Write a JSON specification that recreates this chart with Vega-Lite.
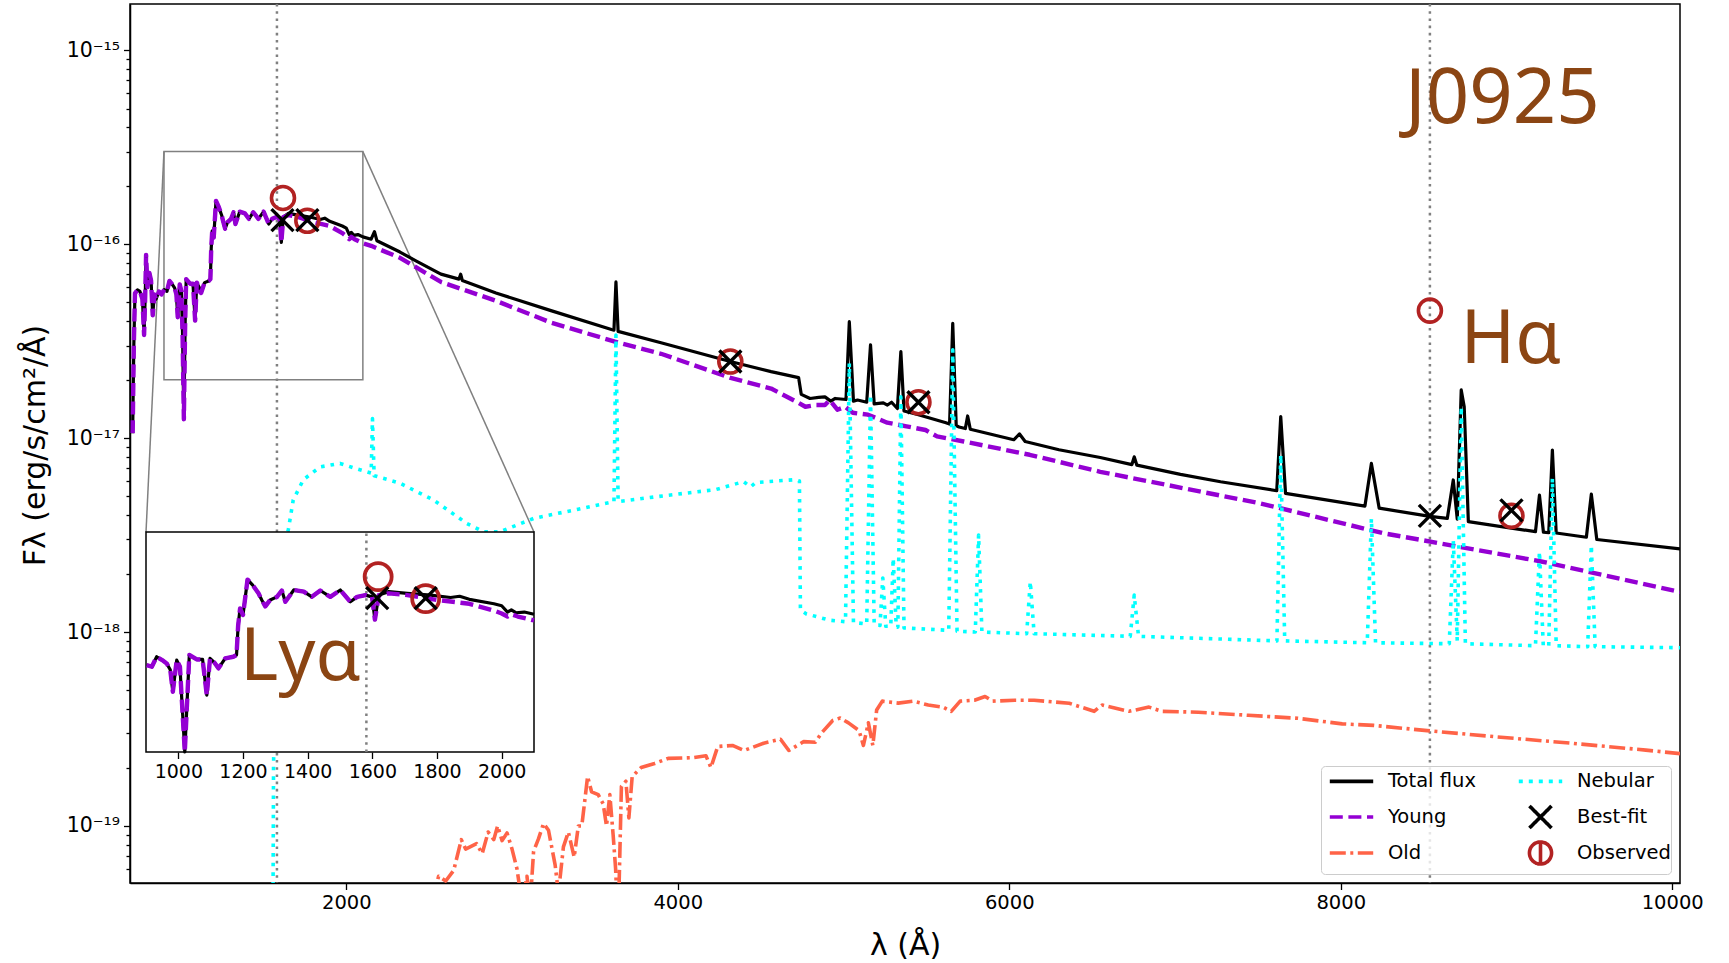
{
  "$schema": "https://vega.github.io/schema/vega-lite/v6.json",
  "width": 1550,
  "height": 879,
  "autosize": {"type": "none"},
  "padding": {"left": 130, "top": 4, "right": 49, "bottom": 80},
  "background": "white",
  "config": {"view": {"stroke": "#000000", "strokeWidth": 1.5}, "font": "DejaVu Sans"},
  "datasets": {
    "total": [
      {"w": 711, "f": 1.06e-17}, {"w": 718, "f": 3.0e-17}, {"w": 725, "f": 5.57e-17}, {"w": 740, "f": 5.8e-17}, {"w": 755, "f": 5.7e-17}, {"w": 770, "f": 5.2e-17}, {"w": 780, "f": 3.4e-17}, {"w": 787, "f": 5.5e-17}, {"w": 792, "f": 8.8e-17}, {"w": 800, "f": 6.0e-17}, {"w": 812, "f": 7.1e-17}, {"w": 822, "f": 6.5e-17}, {"w": 832, "f": 4.3e-17}, {"w": 842, "f": 5.5e-17}, {"w": 852, "f": 5.2e-17}, {"w": 870, "f": 5.7e-17}, {"w": 885, "f": 5.5e-17}, {"w": 902, "f": 5.83e-17}, {"w": 918, "f": 5.71e-17}, {"w": 933, "f": 6.46e-17}, {"w": 950, "f": 6.2e-17}, {"w": 964, "f": 5.95e-17}, {"w": 975, "f": 5.5e-17}, {"w": 983, "f": 4.2e-17}, {"w": 995, "f": 6.2e-17}, {"w": 1005, "f": 5.71e-17}, {"w": 1012, "f": 3.5e-17}, {"w": 1020, "f": 1.25e-17}, {"w": 1028, "f": 4.0e-17}, {"w": 1034, "f": 6.6e-17}, {"w": 1057, "f": 6.25e-17}, {"w": 1075, "f": 6.25e-17}, {"w": 1088, "f": 4.03e-17}, {"w": 1098, "f": 6.33e-17}, {"w": 1112, "f": 6.0e-17}, {"w": 1124, "f": 5.6e-17}, {"w": 1145, "f": 6.33e-17}, {"w": 1170, "f": 6.46e-17}, {"w": 1180, "f": 6.6e-17}, {"w": 1185, "f": 9.5e-17}, {"w": 1191, "f": 1.17e-16}, {"w": 1200, "f": 1.08e-16}, {"w": 1214, "f": 1.67e-16}, {"w": 1230, "f": 1.56e-16}, {"w": 1248, "f": 1.41e-16}, {"w": 1258, "f": 1.3e-16}, {"w": 1269, "f": 1.2e-16}, {"w": 1284, "f": 1.3e-16}, {"w": 1305, "f": 1.35e-16}, {"w": 1320, "f": 1.46e-16}, {"w": 1331, "f": 1.27e-16}, {"w": 1357, "f": 1.47e-16}, {"w": 1388, "f": 1.44e-16}, {"w": 1413, "f": 1.35e-16}, {"w": 1439, "f": 1.46e-16}, {"w": 1470, "f": 1.35e-16}, {"w": 1501, "f": 1.47e-16}, {"w": 1532, "f": 1.27e-16}, {"w": 1553, "f": 1.35e-16}, {"w": 1579, "f": 1.38e-16}, {"w": 1599, "f": 1.35e-16}, {"w": 1608, "f": 1.02e-16}, {"w": 1620, "f": 1.38e-16},
      {"w": 1651, "f": 1.44e-16}, {"w": 1708, "f": 1.41e-16}, {"w": 1780, "f": 1.38e-16}, {"w": 1842, "f": 1.34e-16}, {"w": 1870, "f": 1.36e-16}, {"w": 1900, "f": 1.31e-16}, {"w": 1976, "f": 1.24e-16}, {"w": 2000, "f": 1.21e-16}, {"w": 2018, "f": 1.12e-16}, {"w": 2030, "f": 1.15e-16}, {"w": 2045, "f": 1.11e-16}, {"w": 2070, "f": 1.12e-16}, {"w": 2100, "f": 1.09e-16}, {"w": 2150, "f": 1.06e-16}, {"w": 2170, "f": 1.16e-16}, {"w": 2185, "f": 1.04e-16}, {"w": 2324, "f": 9.1e-17}, {"w": 2420, "f": 8.2e-17}, {"w": 2571, "f": 7.0e-17}, {"w": 2680, "f": 6.6e-17}, {"w": 2690, "f": 7.0e-17}, {"w": 2700, "f": 6.5e-17}, {"w": 2903, "f": 5.6e-17}, {"w": 3235, "f": 4.54e-17}, {"w": 3600, "f": 3.63e-17}, {"w": 3615, "f": 3.6e-17}, {"w": 3627, "f": 6.38e-17}, {"w": 3640, "f": 3.55e-17}, {"w": 3899, "f": 3.1e-17}, {"w": 4317, "f": 2.48e-17}, {"w": 4563, "f": 2.2e-17}, {"w": 4729, "f": 2.05e-17}, {"w": 4745, "f": 1.68e-17}, {"w": 4798, "f": 1.6e-17}, {"w": 4850, "f": 1.62e-17}, {"w": 4888, "f": 1.63e-17}, {"w": 4923, "f": 1.55e-17}, {"w": 4950, "f": 1.6e-17}, {"w": 5015, "f": 1.58e-17}, {"w": 5035, "f": 3.98e-17}, {"w": 5060, "f": 1.55e-17}, {"w": 5085, "f": 1.57e-17}, {"w": 5140, "f": 1.53e-17}, {"w": 5163, "f": 3.02e-17}, {"w": 5185, "f": 1.5e-17}, {"w": 5240, "f": 1.52e-17}, {"w": 5265, "f": 1.48e-17}, {"w": 5290, "f": 1.53e-17}, {"w": 5325, "f": 1.42e-17}, {"w": 5346, "f": 2.79e-17}, {"w": 5365, "f": 1.38e-17}, {"w": 5452, "f": 1.32e-17}, {"w": 5618, "f": 1.2e-17}, {"w": 5640, "f": 1.18e-17}, {"w": 5659, "f": 3.9e-17}, {"w": 5680, "f": 1.16e-17}, {"w": 5697, "f": 1.14e-17}, {"w": 5735, "f": 1.12e-17}, {"w": 5749, "f": 1.3e-17}, {"w": 5765, "f": 1.11e-17}, {"w": 6027, "f": 9.8e-18}, {"w": 6062, "f": 1.05e-17}, {"w": 6096, "f": 9.6e-18}, {"w": 6300, "f": 8.7e-18}, {"w": 6549, "f": 7.94e-18}, {"w": 6740, "f": 7.3e-18}, {"w": 6754, "f": 8.0e-18}, {"w": 6770, "f": 7.25e-18}, {"w": 7033, "f": 6.5e-18}, {"w": 7275, "f": 5.95e-18}, {"w": 7614, "f": 5.35e-18}, {"w": 7638, "f": 1.29e-17}, {"w": 7667, "f": 5.19e-18}, {"w": 8146, "f": 4.46e-18}, {"w": 8185, "f": 7.4e-18}, {"w": 8232, "f": 4.35e-18}, {"w": 8538, "f": 3.95e-18}, {"w": 8643, "f": 3.85e-18}, {"w": 8679, "f": 6.08e-18}, {"w": 8703, "f": 3.82e-18}, {"w": 8727, "f": 1.77e-17}, {"w": 8745, "f": 1.45e-17}, {"w": 8770, "f": 3.71e-18}, {"w": 9175, "f": 3.29e-18}, {"w": 9199, "f": 5.08e-18}, {"w": 9223, "f": 3.27e-18}, {"w": 9255, "f": 3.25e-18}, {"w": 9277, "f": 8.67e-18}, {"w": 9300, "f": 3.24e-18}, {"w": 9482, "f": 3.08e-18}, {"w": 9512, "f": 5.14e-18}, {"w": 9545, "f": 3.0e-18}, {"w": 10047, "f": 2.68e-18}
    ],
    "young": [
      {"w": 711, "f": 1.06e-17}, {"w": 718, "f": 3.0e-17}, {"w": 725, "f": 5.57e-17}, {"w": 740, "f": 5.8e-17}, {"w": 755, "f": 5.7e-17}, {"w": 770, "f": 5.2e-17}, {"w": 780, "f": 3.4e-17}, {"w": 787, "f": 5.5e-17}, {"w": 792, "f": 8.8e-17}, {"w": 800, "f": 6.0e-17}, {"w": 812, "f": 7.1e-17}, {"w": 822, "f": 6.5e-17}, {"w": 832, "f": 4.3e-17}, {"w": 842, "f": 5.5e-17}, {"w": 852, "f": 5.2e-17}, {"w": 870, "f": 5.7e-17}, {"w": 885, "f": 5.5e-17}, {"w": 902, "f": 5.83e-17}, {"w": 918, "f": 5.71e-17}, {"w": 933, "f": 6.46e-17}, {"w": 950, "f": 6.2e-17}, {"w": 964, "f": 5.95e-17}, {"w": 975, "f": 5.5e-17}, {"w": 983, "f": 4.2e-17}, {"w": 995, "f": 6.2e-17}, {"w": 1005, "f": 5.71e-17}, {"w": 1012, "f": 3.5e-17}, {"w": 1020, "f": 1.25e-17}, {"w": 1028, "f": 4.0e-17}, {"w": 1034, "f": 6.6e-17}, {"w": 1057, "f": 6.25e-17}, {"w": 1075, "f": 6.25e-17}, {"w": 1088, "f": 4.03e-17}, {"w": 1098, "f": 6.33e-17}, {"w": 1112, "f": 6.0e-17}, {"w": 1124, "f": 5.6e-17}, {"w": 1145, "f": 6.33e-17}, {"w": 1170, "f": 6.46e-17}, {"w": 1180, "f": 6.6e-17}, {"w": 1185, "f": 9.5e-17}, {"w": 1191, "f": 1.17e-16}, {"w": 1200, "f": 1.08e-16}, {"w": 1214, "f": 1.67e-16}, {"w": 1230, "f": 1.56e-16}, {"w": 1248, "f": 1.41e-16}, {"w": 1258, "f": 1.3e-16}, {"w": 1269, "f": 1.2e-16}, {"w": 1284, "f": 1.3e-16}, {"w": 1305, "f": 1.35e-16}, {"w": 1320, "f": 1.46e-16}, {"w": 1331, "f": 1.27e-16}, {"w": 1357, "f": 1.47e-16}, {"w": 1388, "f": 1.44e-16}, {"w": 1413, "f": 1.35e-16}, {"w": 1439, "f": 1.46e-16}, {"w": 1470, "f": 1.35e-16}, {"w": 1501, "f": 1.47e-16}, {"w": 1532, "f": 1.27e-16}, {"w": 1553, "f": 1.35e-16}, {"w": 1579, "f": 1.38e-16}, {"w": 1599, "f": 1.35e-16}, {"w": 1608, "f": 1.02e-16}, {"w": 1620, "f": 1.38e-16},
      {"w": 1651, "f": 1.41e-16}, {"w": 1708, "f": 1.38e-16}, {"w": 1800, "f": 1.3e-16}, {"w": 1900, "f": 1.24e-16}, {"w": 1976, "f": 1.14e-16}, {"w": 2000, "f": 1.1e-16}, {"w": 2018, "f": 1.06e-16}, {"w": 2030, "f": 1.09e-16}, {"w": 2050, "f": 1.06e-16}, {"w": 2100, "f": 1.01e-16}, {"w": 2150, "f": 9.8e-17}, {"w": 2200, "f": 9.4e-17}, {"w": 2324, "f": 8.5e-17}, {"w": 2420, "f": 7.6e-17}, {"w": 2571, "f": 6.38e-17}, {"w": 2903, "f": 5.1e-17}, {"w": 3235, "f": 3.94e-17}, {"w": 3621, "f": 3.14e-17}, {"w": 3899, "f": 2.72e-17}, {"w": 4313, "f": 2.05e-17}, {"w": 4563, "f": 1.8e-17}, {"w": 4729, "f": 1.52e-17}, {"w": 4770, "f": 1.45e-17}, {"w": 4830, "f": 1.48e-17}, {"w": 4888, "f": 1.48e-17}, {"w": 4917, "f": 1.57e-17}, {"w": 4963, "f": 1.4e-17}, {"w": 5010, "f": 1.45e-17}, {"w": 5056, "f": 1.35e-17}, {"w": 5148, "f": 1.32e-17}, {"w": 5264, "f": 1.2e-17}, {"w": 5380, "f": 1.15e-17}, {"w": 5495, "f": 1.1e-17}, {"w": 5564, "f": 1.02e-17}, {"w": 5726, "f": 9.6e-18}, {"w": 6123, "f": 8.2e-18}, {"w": 6549, "f": 6.7e-18}, {"w": 7517, "f": 4.6e-18}, {"w": 8250, "f": 3.24e-18}, {"w": 9210, "f": 2.31e-18}, {"w": 10047, "f": 1.61e-18}
    ],
    "nebular": [
      {"w": 1555, "f": 1e-20}, {"w": 1561, "f": 2e-19}, {"w": 1575, "f": 1.5e-18}, {"w": 1610, "f": 2.6e-18}, {"w": 1650, "f": 3.36e-18}, {"w": 1680, "f": 4.8e-18}, {"w": 1741, "f": 6.1e-18}, {"w": 1842, "f": 7.1e-18}, {"w": 1962, "f": 7.4e-18}, {"w": 2050, "f": 7.0e-18}, {"w": 2150, "f": 6.6e-18}, {"w": 2158, "f": 1.26e-17}, {"w": 2168, "f": 6.4e-18}, {"w": 2324, "f": 5.85e-18}, {"w": 2525, "f": 4.8e-18}, {"w": 2727, "f": 3.63e-18}, {"w": 2827, "f": 3.29e-18}, {"w": 2928, "f": 3.29e-18}, {"w": 3129, "f": 3.85e-18}, {"w": 3400, "f": 4.3e-18}, {"w": 3615, "f": 4.7e-18}, {"w": 3627, "f": 3.4e-17}, {"w": 3640, "f": 4.7e-18}, {"w": 3800, "f": 4.9e-18}, {"w": 4115, "f": 5.28e-18}, {"w": 4231, "f": 5.43e-18}, {"w": 4397, "f": 5.96e-18}, {"w": 4440, "f": 5.6e-18}, {"w": 4470, "f": 5.9e-18}, {"w": 4706, "f": 6.1e-18}, {"w": 4734, "f": 6.0e-18}, {"w": 4740, "f": 1.3e-18}, {"w": 4776, "f": 1.24e-18}, {"w": 4917, "f": 1.15e-18}, {"w": 5012, "f": 1.13e-18}, {"w": 5035, "f": 2.43e-17}, {"w": 5060, "f": 1.12e-18}, {"w": 5140, "f": 1.1e-18}, {"w": 5163, "f": 1.67e-17}, {"w": 5185, "f": 1.1e-18}, {"w": 5220, "f": 1.08e-18}, {"w": 5237, "f": 1.9e-18}, {"w": 5255, "f": 1.07e-18}, {"w": 5285, "f": 1.07e-18}, {"w": 5300, "f": 2.4e-18}, {"w": 5318, "f": 1.06e-18}, {"w": 5328, "f": 1.06e-18}, {"w": 5346, "f": 1.63e-17}, {"w": 5365, "f": 1.05e-18}, {"w": 5635, "f": 1.02e-18}, {"w": 5659, "f": 2.85e-17}, {"w": 5685, "f": 1.01e-18}, {"w": 5795, "f": 1.0e-18}, {"w": 5815, "f": 3.16e-18}, {"w": 5835, "f": 1.0e-18}, {"w": 6105, "f": 9.8e-19}, {"w": 6127, "f": 1.82e-18}, {"w": 6150, "f": 9.8e-19}, {"w": 6730, "f": 9.5e-19}, {"w": 6754, "f": 1.55e-18}, {"w": 6780, "f": 9.5e-19}, {"w": 7615, "f": 9.0e-19}, {"w": 7638, "f": 8.2e-18}, {"w": 7662, "f": 9.0e-19}, {"w": 8160, "f": 8.8e-19}, {"w": 8185, "f": 3.85e-18}, {"w": 8210, "f": 8.8e-19}, {"w": 8655, "f": 8.7e-19}, {"w": 8679, "f": 2.98e-18}, {"w": 8703, "f": 9.0e-19}, {"w": 8727, "f": 1.45e-17}, {"w": 8752, "f": 8.7e-19}, {"w": 9175, "f": 8.5e-19}, {"w": 9199, "f": 2.6e-18}, {"w": 9222, "f": 8.5e-19}, {"w": 9255, "f": 8.5e-19}, {"w": 9277, "f": 6.2e-18}, {"w": 9300, "f": 8.5e-19}, {"w": 9490, "f": 8.4e-19}, {"w": 9512, "f": 2.8e-18}, {"w": 9535, "f": 8.4e-19}, {"w": 10047, "f": 8.3e-19}
    ],
    "old": [
      {"w": 2530, "f": 3e-20}, {"w": 2544, "f": 5.0e-20}, {"w": 2557, "f": 5.5e-20}, {"w": 2600, "f": 5.2e-20}, {"w": 2648, "f": 5.9e-20}, {"w": 2694, "f": 8.5e-20}, {"w": 2720, "f": 7.6e-20}, {"w": 2786, "f": 8.1e-20}, {"w": 2820, "f": 7.2e-20}, {"w": 2856, "f": 9.3e-20}, {"w": 2890, "f": 8.5e-20}, {"w": 2913, "f": 1.0e-19}, {"w": 2940, "f": 8.4e-20}, {"w": 2970, "f": 9.2e-20}, {"w": 3000, "f": 7.6e-20}, {"w": 3030, "f": 6.0e-20}, {"w": 3060, "f": 4e-20}, {"w": 3090, "f": 5.5e-20}, {"w": 3110, "f": 4e-20}, {"w": 3130, "f": 7.4e-20}, {"w": 3160, "f": 8.6e-20}, {"w": 3190, "f": 1.03e-19}, {"w": 3220, "f": 9.5e-20}, {"w": 3260, "f": 6.3e-20}, {"w": 3280, "f": 4.5e-20}, {"w": 3310, "f": 7.8e-20}, {"w": 3340, "f": 9.3e-20}, {"w": 3375, "f": 6.9e-20}, {"w": 3400, "f": 1.0e-19}, {"w": 3421, "f": 1.0e-19}, {"w": 3456, "f": 1.8e-19}, {"w": 3480, "f": 1.5e-19}, {"w": 3520, "f": 1.45e-19}, {"w": 3550, "f": 1.3e-19}, {"w": 3570, "f": 1.0e-19}, {"w": 3590, "f": 1.45e-19}, {"w": 3610, "f": 9e-20}, {"w": 3625, "f": 6e-20}, {"w": 3640, "f": 3e-20}, {"w": 3660, "f": 1.6e-19}, {"w": 3687, "f": 1.7e-19}, {"w": 3705, "f": 1.1e-19}, {"w": 3725, "f": 1.8e-19}, {"w": 3779, "f": 2.0e-19}, {"w": 3860, "f": 2.1e-19}, {"w": 3942, "f": 2.23e-19}, {"w": 4090, "f": 2.25e-19}, {"w": 4170, "f": 2.3e-19}, {"w": 4200, "f": 2.0e-19}, {"w": 4241, "f": 2.57e-19}, {"w": 4330, "f": 2.6e-19}, {"w": 4400, "f": 2.45e-19}, {"w": 4518, "f": 2.67e-19}, {"w": 4620, "f": 2.8e-19}, {"w": 4670, "f": 2.45e-19}, {"w": 4760, "f": 2.72e-19}, {"w": 4830, "f": 2.7e-19}, {"w": 4865, "f": 3.0e-19}, {"w": 4935, "f": 3.5e-19}, {"w": 4980, "f": 3.6e-19}, {"w": 5030, "f": 3.4e-19}, {"w": 5094, "f": 3.1e-19}, {"w": 5120, "f": 2.6e-19}, {"w": 5150, "f": 3.4e-19}, {"w": 5177, "f": 2.6e-19}, {"w": 5200, "f": 3.96e-19}, {"w": 5234, "f": 4.4e-19}, {"w": 5330, "f": 4.3e-19}, {"w": 5420, "f": 4.4e-19}, {"w": 5511, "f": 4.2e-19}, {"w": 5600, "f": 4.1e-19}, {"w": 5650, "f": 3.9e-19}, {"w": 5704, "f": 4.4e-19}, {"w": 5790, "f": 4.45e-19}, {"w": 5854, "f": 4.65e-19}, {"w": 5900, "f": 4.4e-19}, {"w": 6033, "f": 4.45e-19}, {"w": 6150, "f": 4.45e-19}, {"w": 6362, "f": 4.29e-19}, {"w": 6512, "f": 3.9e-19}, {"w": 6560, "f": 4.2e-19}, {"w": 6723, "f": 3.9e-19}, {"w": 6843, "f": 4.1e-19}, {"w": 6920, "f": 3.9e-19}, {"w": 7141, "f": 3.86e-19}, {"w": 7442, "f": 3.72e-19}, {"w": 7742, "f": 3.59e-19}, {"w": 8009, "f": 3.36e-19}, {"w": 8200, "f": 3.3e-19}, {"w": 8522, "f": 3.1e-19}, {"w": 8942, "f": 2.88e-19}, {"w": 9392, "f": 2.67e-19}, {"w": 9841, "f": 2.46e-19}, {"w": 10047, "f": 2.36e-19}
    ],
    "bestfit": [
      {"w": 1615, "f": 1.33e-16}, {"w": 1765, "f": 1.33e-16}, {"w": 4317, "f": 2.48e-17}, {"w": 5452, "f": 1.53e-17}, {"w": 8538, "f": 3.97e-18}, {"w": 9030, "f": 4.24e-18}
    ],
    "observed": [
      {"w": 1618, "f": 1.73e-16}, {"w": 1765, "f": 1.32e-16}, {"w": 4317, "f": 2.48e-17}, {"w": 5452, "f": 1.53e-17}, {"w": 8538, "f": 4.54e-17}, {"w": 9030, "f": 3.97e-18}
    ]
  },
  "resolve": {"scale": {"x": "independent", "y": "independent"}},
  "layer": [
    {
      "layer": [
        {
          "data": {"values": [{"x1": 900, "x2": 2100, "y1": 2e-17, "y2": 3e-16}]},
          "mark": {"type": "rect", "fillOpacity": 0, "stroke": "#808080", "strokeWidth": 1.5},
          "encoding": {
            "x": {"field": "x1", "type": "quantitative", "scale": {"domain": [695, 10047], "nice": false, "zero": false}},
            "x2": {"field": "x2"},
            "y": {"field": "y1", "type": "quantitative", "scale": {"type": "log", "domain": [5.08e-20, 1.73e-15], "nice": false}},
            "y2": {"field": "y2"}
          }
        },
        {
          "data": {"values": [{"x1": 900, "y1": 3e-16, "x2": 791.6, "y2": 3.27e-18}, {"x1": 2100, "y1": 3e-16, "x2": 3133, "y2": 3.27e-18}]},
          "mark": {"type": "rule", "stroke": "#808080", "strokeWidth": 1.5},
          "encoding": {
            "x": {"field": "x1", "type": "quantitative", "scale": {"domain": [695, 10047], "nice": false, "zero": false}},
            "x2": {"field": "x2"},
            "y": {"field": "y1", "type": "quantitative", "scale": {"type": "log", "domain": [5.08e-20, 1.73e-15], "nice": false}},
            "y2": {"field": "y2"}
          }
        },
        {
          "data": {"values": [{"w": 1581.6, "line": "Lyα"}, {"w": 8538, "line": "Hα"}]},
          "mark": {"type": "rule", "stroke": "#808080", "strokeWidth": 2.5, "strokeDash": [2.6, 4.6]},
          "encoding": {
            "x": {"field": "w", "type": "quantitative", "scale": {"domain": [695, 10047], "nice": false, "zero": false}}
          }
        },
        {
          "data": {"name": "total"},
          "mark": {"type": "line", "stroke": "#000000", "strokeWidth": 3.2, "strokeJoin": "round", "clip": true},
          "encoding": {
            "x": {"field": "w", "type": "quantitative", "scale": {"domain": [695, 10047], "nice": false, "zero": false},
              "axis": {"orient": "bottom", "values": [2000, 4000, 6000, 8000, 10000], "format": "d", "title": "λ (Å)", "titleFont": "DejaVu Sans", "titleFontSize": 30, "titleFontWeight": "normal", "titleColor": "#000000", "titleY": 62, "titleBaseline": "middle",
                "labelFont": "DejaVu Sans", "labelFontSize": 19.5, "labelColor": "#000000", "labelPadding": 4, "labelFlush": false, "labelOverlap": false,
                "tickSize": 6.5, "tickWidth": 1.3, "tickColor": "#000000", "domainColor": "#000000", "domainWidth": 1.5, "grid": false}},
            "y": {"field": "f", "type": "quantitative", "scale": {"type": "log", "domain": [5.08e-20, 1.73e-15], "nice": false},
              "axis": {"orient": "left", "values": [6e-20, 7e-20, 8e-20, 9e-20, 1e-19, 2e-19, 3e-19, 4e-19, 5e-19, 6e-19, 7e-19, 8e-19, 9e-19, 1e-18, 2e-18, 3e-18, 4e-18, 5e-18, 6e-18, 7e-18, 8e-18, 9e-18, 1e-17, 2e-17, 3e-17, 4e-17, 5e-17, 6e-17, 7e-17, 8e-17, 9e-17, 1e-16, 2e-16, 3e-16, 4e-16, 5e-16, 6e-16, 7e-16, 8e-16, 9e-16, 1e-15],
                "labelExpr": "datum.value == 1e-15 ? '10⁻¹⁵' : datum.value == 1e-16 ? '10⁻¹⁶' : datum.value == 1e-17 ? '10⁻¹⁷' : datum.value == 1e-18 ? '10⁻¹⁸' : datum.value == 1e-19 ? '10⁻¹⁹' : ''",
                "tickSize": {"condition": {"test": "indexof([1e-19, 1e-18, 1e-17, 1e-16, 1e-15], datum.value) >= 0", "value": 6.5}, "value": 4},
                "title": "Fλ (erg/s/cm²/Å)", "titleFont": "DejaVu Sans", "titleFontSize": 30, "titleFontWeight": "normal", "titleColor": "#000000", "titleX": -95, "titleY": 441, "titleAlign": "center", "titleBaseline": "middle", "titleAngle": -90,
                "labelFont": "DejaVu Sans", "labelFontSize": 20.5, "labelColor": "#000000", "labelPadding": 4, "labelOverlap": false, "labelFlush": false,
                "tickWidth": 1.3, "tickColor": "#000000", "domainColor": "#000000", "domainWidth": 1.5, "grid": false}}
          }
        },
        {
          "data": {"name": "young"},
          "mark": {"type": "line", "stroke": "#9400d3", "strokeWidth": 4.4, "strokeDash": [13, 5.6], "strokeJoin": "round", "clip": true},
          "encoding": {
            "x": {"field": "w", "type": "quantitative", "scale": {"domain": [695, 10047], "nice": false, "zero": false}},
            "y": {"field": "f", "type": "quantitative", "scale": {"type": "log", "domain": [5.08e-20, 1.73e-15], "nice": false}}
          }
        },
        {
          "data": {"name": "old"},
          "mark": {"type": "line", "stroke": "#ff6347", "strokeWidth": 3.6, "strokeDash": [16, 4.5, 3, 4.5], "strokeJoin": "round", "clip": true},
          "encoding": {
            "x": {"field": "w", "type": "quantitative", "scale": {"domain": [695, 10047], "nice": false, "zero": false}},
            "y": {"field": "f", "type": "quantitative", "scale": {"type": "log", "domain": [5.08e-20, 1.73e-15], "nice": false}}
          }
        },
        {
          "data": {"name": "nebular"},
          "mark": {"type": "line", "stroke": "#00ffff", "strokeWidth": 3.6, "strokeDash": [3.6, 6], "strokeJoin": "round", "clip": true},
          "encoding": {
            "x": {"field": "w", "type": "quantitative", "scale": {"domain": [695, 10047], "nice": false, "zero": false}},
            "y": {"field": "f", "type": "quantitative", "scale": {"type": "log", "domain": [5.08e-20, 1.73e-15], "nice": false}}
          }
        },
        {
          "data": {"name": "observed"},
          "mark": {"type": "point", "shape": "circle", "filled": false, "stroke": "#b22222", "strokeWidth": 3.6, "size": 529, "opacity": 1},
          "encoding": {
            "x": {"field": "w", "type": "quantitative", "scale": {"domain": [695, 10047], "nice": false, "zero": false}},
            "y": {"field": "f", "type": "quantitative", "scale": {"type": "log", "domain": [5.08e-20, 1.73e-15], "nice": false}}
          }
        },
        {
          "data": {"name": "bestfit"},
          "mark": {"type": "point", "shape": "M-1,-1L1,1M-1,1L1,-1", "filled": false, "stroke": "#000000", "strokeWidth": 3.4, "size": 484, "opacity": 1},
          "encoding": {
            "x": {"field": "w", "type": "quantitative", "scale": {"domain": [695, 10047], "nice": false, "zero": false}},
            "y": {"field": "f", "type": "quantitative", "scale": {"type": "log", "domain": [5.08e-20, 1.73e-15], "nice": false}}
          }
        },
        {
          "data": {"values": [{"w": 8975, "f": 4.2e-16, "t": "J0925"}]},
          "mark": {"type": "text", "font": "Noto Sans", "fontSize": 76, "fill": "#8b4513", "align": "center", "baseline": "alphabetic"},
          "encoding": {
            "x": {"field": "w", "type": "quantitative", "scale": {"domain": [695, 10047], "nice": false, "zero": false}},
            "y": {"field": "f", "type": "quantitative", "scale": {"type": "log", "domain": [5.08e-20, 1.73e-15], "nice": false}},
            "text": {"field": "t"}
          }
        },
        {
          "data": {"values": [{"w": 8722, "f": 2.44e-17, "t": "Hα"}]},
          "mark": {"type": "text", "font": "Noto Sans", "fontSize": 74, "fill": "#8b4513", "align": "left", "baseline": "alphabetic"},
          "encoding": {
            "x": {"field": "w", "type": "quantitative", "scale": {"domain": [695, 10047], "nice": false, "zero": false}},
            "y": {"field": "f", "type": "quantitative", "scale": {"type": "log", "domain": [5.08e-20, 1.73e-15], "nice": false}},
            "text": {"field": "t"}
          }
        },
        {
          "data": {"values": [{"s": "Total flux"}, {"s": "Young"}, {"s": "Old"}, {"s": "Nebular"}, {"s": "Best-fit"}, {"s": "Observed"}]},
          "transform": [{"filter": "false"}],
          "mark": {"type": "point", "filled": false, "strokeWidth": 3.6, "opacity": 1},
          "encoding": {
            "color": {"field": "s", "type": "nominal",
              "scale": {"domain": ["Total flux", "Young", "Old", "Nebular", "Best-fit", "Observed"], "range": ["#000000", "#9400d3", "#ff6347", "#00ffff", "#000000", "#b22222"]},
              "legend": {"title": null, "orient": "bottom-right", "offset": 9, "columns": 2, "columnPadding": 28, "rowPadding": -22, "padding": 0, "gridAlign": "all",
                "symbolOffset": 15.5, "symbolSize": 676, "symbolStrokeWidth": 3.6,
                "labelFont": "DejaVu Sans", "labelFontSize": 19.5, "labelColor": "#000000", "labelOffset": 21.5,
                "strokeColor": "#cccccc", "fillColor": "rgba(255,255,255,0.8)", "cornerRadius": 4}},
            "shape": {"field": "s", "type": "nominal",
              "scale": {"domain": ["Total flux", "Young", "Old", "Nebular", "Best-fit", "Observed"], "range": [
                "M-1.67,-1L-1.67,-1M1.67,1L1.67,1M-1.67,0L1.67,0",
                "M-1.67,-1L-1.67,-1M1.67,1L1.67,1M-1.67,0L1.67,0",
                "M-1.67,-1L-1.67,-1M1.67,1L1.67,1M-1.67,0L1.67,0",
                "M-1.67,-1L-1.67,-1M1.67,1L1.67,1M-1.67,0L1.67,0",
                "M-1.67,-1L-1.67,-1M1.67,1L1.67,1M-0.85,-0.85L0.85,0.85M-0.85,0.85L0.85,-0.85",
                "M-1.67,-1L-1.67,-1M1.67,1L1.67,1M0.85,0A0.85,0.85,0,1,1,-0.85,0A0.85,0.85,0,1,1,0.85,0M0,-0.85L0,0.85"]}},
            "strokeDash": {"field": "s", "type": "nominal",
              "scale": {"domain": ["Total flux", "Young", "Old", "Nebular", "Best-fit", "Observed"], "range": [[1, 0], [13, 5.6], [16, 4.5, 3, 4.5], [4, 6], [1, 0], [1, 0]]}}
          }
        }
      ]
    },
    {
      "layer": [
        {
          "data": {"values": [{"x1": 900, "x2": 2100, "y1": 2e-17, "y2": 3e-16}]},
          "mark": {"type": "rect", "fill": "#ffffff", "stroke": "#000000", "strokeWidth": 1.5},
          "encoding": {
            "x": {"field": "x1", "type": "quantitative", "scale": {"domain": [900, 2100], "nice": false, "zero": false, "range": [16, 404]},
              "axis": {"orient": "bottom", "values": [1000, 1200, 1400, 1600, 1800, 2000], "format": "d", "title": null, "offset": -131, "domain": false, "grid": false,
                "labelFont": "DejaVu Sans", "labelFontSize": 19, "labelColor": "#000000", "labelPadding": 4, "labelFlush": false, "labelOverlap": false,
                "tickSize": 6.5, "tickWidth": 1.3, "tickColor": "#000000"}},
            "x2": {"field": "x2"},
            "y": {"field": "y1", "type": "quantitative", "scale": {"type": "log", "domain": [2e-17, 3e-16], "nice": false, "range": [748, 528], "clamp": true}, "axis": null},
            "y2": {"field": "y2"}
          }
        },
        {
          "data": {"values": [{"w": 1581.6, "f1": 2e-17, "f2": 3e-16}]},
          "mark": {"type": "rule", "stroke": "#808080", "strokeWidth": 2.5, "strokeDash": [2.6, 4.6]},
          "encoding": {
            "x": {"field": "w", "type": "quantitative", "scale": {"domain": [900, 2100], "nice": false, "zero": false, "range": [16, 404]}},
            "y": {"field": "f1", "type": "quantitative", "scale": {"type": "log", "domain": [2e-17, 3e-16], "nice": false, "range": [748, 528], "clamp": true}, "axis": null},
            "y2": {"field": "f2"}
          }
        },
        {
          "data": {"name": "total"},
          "transform": [{"filter": "datum.w >= 895 && datum.w <= 2105"}],
          "mark": {"type": "line", "stroke": "#000000", "strokeWidth": 3.2, "strokeJoin": "round"},
          "encoding": {
            "x": {"field": "w", "type": "quantitative", "scale": {"domain": [900, 2100], "nice": false, "zero": false, "range": [16, 404]}},
            "y": {"field": "f", "type": "quantitative", "scale": {"type": "log", "domain": [2e-17, 3e-16], "nice": false, "range": [748, 528], "clamp": true}, "axis": null}
          }
        },
        {
          "data": {"name": "young"},
          "transform": [{"filter": "datum.w >= 895 && datum.w <= 2105"}],
          "mark": {"type": "line", "stroke": "#9400d3", "strokeWidth": 4.4, "strokeDash": [13, 5.6], "strokeJoin": "round"},
          "encoding": {
            "x": {"field": "w", "type": "quantitative", "scale": {"domain": [900, 2100], "nice": false, "zero": false, "range": [16, 404]}},
            "y": {"field": "f", "type": "quantitative", "scale": {"type": "log", "domain": [2e-17, 3e-16], "nice": false, "range": [748, 528], "clamp": true}, "axis": null}
          }
        },
        {
          "data": {"name": "observed"},
          "transform": [{"filter": "datum.w <= 2100"}],
          "mark": {"type": "point", "shape": "circle", "filled": false, "stroke": "#b22222", "strokeWidth": 3.8, "size": 729, "opacity": 1},
          "encoding": {
            "x": {"field": "w", "type": "quantitative", "scale": {"domain": [900, 2100], "nice": false, "zero": false, "range": [16, 404]}},
            "y": {"field": "f", "type": "quantitative", "scale": {"type": "log", "domain": [2e-17, 3e-16], "nice": false, "range": [748, 528], "clamp": true}, "axis": null}
          }
        },
        {
          "data": {"name": "bestfit"},
          "transform": [{"filter": "datum.w <= 2100"}],
          "mark": {"type": "point", "shape": "M-1,-1L1,1M-1,1L1,-1", "filled": false, "stroke": "#000000", "strokeWidth": 3.4, "size": 484, "opacity": 1},
          "encoding": {
            "x": {"field": "w", "type": "quantitative", "scale": {"domain": [900, 2100], "nice": false, "zero": false, "range": [16, 404]}},
            "y": {"field": "f", "type": "quantitative", "scale": {"type": "log", "domain": [2e-17, 3e-16], "nice": false, "range": [748, 528], "clamp": true}, "axis": null}
          }
        },
        {
          "data": {"values": [{"w": 1191, "f": 4.85e-17, "t": "Lyα"}]},
          "mark": {"type": "text", "font": "Noto Sans", "fontSize": 73, "fill": "#8b4513", "align": "left", "baseline": "alphabetic"},
          "encoding": {
            "x": {"field": "w", "type": "quantitative", "scale": {"domain": [900, 2100], "nice": false, "zero": false, "range": [16, 404]}},
            "y": {"field": "f", "type": "quantitative", "scale": {"type": "log", "domain": [2e-17, 3e-16], "nice": false, "range": [748, 528], "clamp": true}, "axis": null},
            "text": {"field": "t"}
          }
        }
      ]
    }
  ]
}
